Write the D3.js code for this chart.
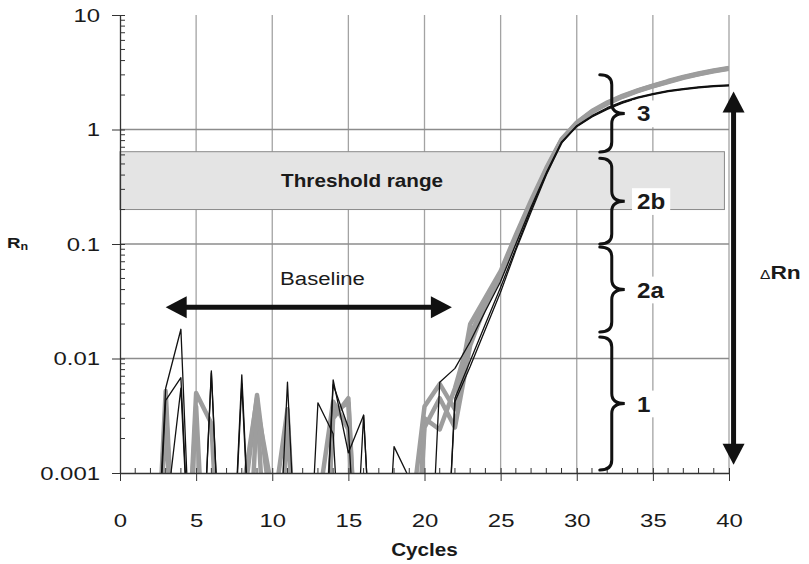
<!DOCTYPE html>
<html>
<head>
<meta charset="utf-8">
<script src="https://cdn.jsdelivr.net/npm/d3@7"></script>
<style>
    body {margin: 0; background: #fff;}
    text {font-family: Arial, "Liberation Sans", sans-serif; fill: #1a1a1a;}
</style>
</head>
<body>
<div id="chart"></div>
<script>
// value used for points that fall below the plotted range (clipped at the axis)
var off = 0.00001;

var cycles = [0,1,2,3,4,5,6,7,8,9,10,11,12,13,14,15,16,17,18,19,20,
              21,22,23,24,25,26,27,28,29,30,31,32,33,34,35,36,37,38,39,40];

// black (thin) replicate curves
var black1 = [off,off,off,0.0055,0.018,off,0.0078,off,off,off,off,0.0062,off,off,0.0059,0.0025,off,off,off,off,off,
              0.0062,0.0082,0.014,0.026,0.047,0.1,0.21,0.42,0.78,1.08,1.32,1.55,1.75,1.92,2.06,2.18,2.27,2.35,2.41,2.45];
var black2 = [off,off,off,0.0043,0.0068,off,0.0075,off,0.0072,off,off,off,off,0.0041,0.0022,off,0.0032,off,0.0017,0.0009,off,
              off,0.0045,0.0095,0.02,0.042,0.092,0.2,0.41,0.77,1.07,1.3,1.52,1.72,1.9,2.04,2.16,2.25,2.33,2.39,2.43];
var black3 = [off,off,off,0.0004,0.0055,off,off,off,0.006,off,off,off,off,off,0.0065,0.0015,0.0032,off,off,off,off,
              off,0.0042,0.0085,0.018,0.038,0.088,0.19,0.4,0.76,1.06,1.29,1.5,1.7,1.88,2.02,2.14,2.23,2.31,2.37,2.41];

// gray (thick) replicate curves
var gray1 = [off,off,off,0.0052,off,0.005,0.0027,off,0.0004,0.0048,0.0004,0.0036,off,off,0.0034,0.0041,off,off,off,0.0003,0.0038,
             0.006,0.0036,0.02,0.034,0.058,0.12,0.24,0.46,0.82,1.15,1.45,1.72,1.97,2.2,2.42,2.65,2.88,3.08,3.28,3.45];
var gray2 = [off,off,off,0.004,off,0.0038,off,off,0.0006,0.0045,off,0.003,off,0.0005,0.0042,0.0024,off,off,off,off,0.003,
             0.0024,0.0055,0.016,0.031,0.055,0.115,0.23,0.45,0.81,1.14,1.43,1.7,1.95,2.18,2.4,2.62,2.85,3.05,3.25,3.42];
var gray3 = [off,off,off,0.003,off,off,off,off,off,0.0038,0.0007,off,off,off,0.003,0.0045,off,off,off,off,0.0025,
             0.0045,0.0025,0.013,0.029,0.053,0.11,0.22,0.44,0.8,1.13,1.42,1.68,1.93,2.16,2.38,2.6,2.83,3.03,3.22,3.4];

var xTickLabels = [0,5,10,15,20,25,30,35,40];
var yTickValues = [0.001,0.01,0.1,1,10];
var yTickLabels = ["0.001","0.01","0.1","1","10"];

// annotations
var thresholdRange = [0.2, 0.64];
var thresholdEnd = 39.7;
var baselineCycles = [3, 21.8];
var baselineLevel = 0.028;
var braceLabels = ["1","2a","2b","3"];
var braceTops = [0.0154, 0.094, 0.56, 3.0];
var braceBottoms = [0.00106, 0.017, 0.1, 0.636];
var braceCycle = 32.3;
var deltaRnRange = [0.00118, 2.15];
var deltaRnCycle = 40.3;

var width = 809, height = 564;
var padding = {top: 15, right: 80, bottom: 91, left: 120};

var x = d3.scaleLinear().domain([0, 40]).range([padding.left, width - padding.right]);
var y = d3.scaleLog().domain([0.001, 10]).range([height - padding.bottom, padding.top]);

var svg = d3.select("#chart").append("svg")
    .attr("width", width)
    .attr("height", height);

svg.append("defs").append("clipPath").attr("id", "plotClip")
    .append("rect")
    .attr("x", x(0)).attr("y", y(10))
    .attr("width", x(40) - x(0)).attr("height", y(0.001) - y(10));

function addText(parent, str, px, py, size, weight, anchor, sx) {
    return parent.append("text")
        .attr("transform", "translate(" + px + "," + py + ") scale(" + sx + ",1)")
        .attr("text-anchor", anchor)
        .style("font-size", size + "px")
        .style("font-weight", weight)
        .text(str);
}

// grid
svg.append("g").selectAll("line")
    .data(xTickLabels.slice(1))
    .enter().append("line")
    .attr("x1", function(d) { return x(d); })
    .attr("x2", function(d) { return x(d); })
    .attr("y1", y(10)).attr("y2", y(0.001))
    .attr("stroke", "#a3a3a3").attr("stroke-width", 1.3);
svg.append("g").selectAll("line")
    .data([0.01, 0.1, 1])
    .enter().append("line")
    .attr("x1", x(0)).attr("x2", x(40))
    .attr("y1", function(d) { return y(d); })
    .attr("y2", function(d) { return y(d); })
    .attr("stroke", "#8c8c8c").attr("stroke-width", 1.5);

// threshold range box
svg.append("rect")
    .attr("x", x(0)).attr("y", y(thresholdRange[1]))
    .attr("width", x(thresholdEnd) - x(0))
    .attr("height", y(thresholdRange[0]) - y(thresholdRange[1]))
    .attr("fill", "#e4e4e4").attr("stroke", "#8a8a8a").attr("stroke-width", 1);
addText(svg, "Threshold range", x(15.9), (y(thresholdRange[0]) + y(thresholdRange[1])) / 2 + 6.5, 18, "bold", "middle", 1.15);

// curves
var line = d3.line()
    .x(function(d, i) { return x(cycles[i]); })
    .y(function(d) { return y(d); });
var curves = svg.append("g").attr("clip-path", "url(#plotClip)");
curves.selectAll("path.gray")
    .data([gray1, gray2, gray3])
    .enter().append("path")
    .attr("class", "gray")
    .attr("d", line)
    .attr("fill", "none").attr("stroke", "#9d9d9d")
    .attr("stroke-width", 4.5).attr("stroke-linejoin", "round");
curves.selectAll("path.black")
    .data([black1, black2, black3])
    .enter().append("path")
    .attr("class", "black")
    .attr("d", line)
    .attr("fill", "none").attr("stroke", "#111")
    .attr("stroke-width", 1.3).attr("stroke-linejoin", "round");

// y axis
var yAxis = svg.append("g")
    .attr("transform", "translate(" + x(0) + ",0)")
    .style("color", "#333")
    .call(d3.axisLeft(y).tickValues(yTickValues).tickSize(8).tickSizeOuter(0)
        .tickFormat(function(d, i) { return yTickLabels[i]; }));
yAxis.select(".domain").attr("stroke-width", 1.3);
yAxis.selectAll("text")
    .attr("x", null).attr("dy", "0.36em")
    .attr("transform", "translate(-20,0) scale(1.33,1)")
    .style("font-size", "18px").style("fill", "#1a1a1a");
yAxis.selectAll(".tick").append("line").attr("x2", 5).attr("stroke", "currentColor");
yAxis.append("g").selectAll("line")
    .data(y.ticks().filter(function(d) { return yTickValues.indexOf(d) < 0; }))
    .enter().append("line")
    .attr("x1", 0).attr("x2", 5)
    .attr("y1", function(d) { return y(d); })
    .attr("y2", function(d) { return y(d); })
    .attr("stroke", "#333");

// x axis
var xAxis = svg.append("g")
    .attr("transform", "translate(0," + y(0.001) + ")")
    .style("color", "#333")
    .call(d3.axisBottom(x).tickValues(xTickLabels).tickSize(8).tickSizeOuter(0));
xAxis.select(".domain").attr("stroke-width", 1.3);
xAxis.selectAll("text")
    .attr("y", 54.5).attr("dy", null)
    .attr("transform", "scale(1.33,1)")
    .style("font-size", "18px").style("fill", "#1a1a1a");
xAxis.selectAll(".tick").append("line").attr("y2", -5).attr("stroke", "currentColor");
xAxis.append("g").selectAll("line")
    .data(cycles.filter(function(d) { return d % 5 !== 0; }))
    .enter().append("line")
    .attr("x1", function(d) { return x(d); })
    .attr("x2", function(d) { return x(d); })
    .attr("y1", 0).attr("y2", -5)
    .attr("stroke", "#333");

// axis titles
addText(svg, "Cycles", (x(0) + x(40)) / 2, 556, 18, "bold", "middle", 1.15);
var rn = svg.append("text")
    .attr("transform", "translate(7,248) scale(1.25,1)")
    .style("font-weight", "bold");
rn.append("tspan").style("font-size", "15px").text("R");
rn.append("tspan").style("font-size", "10px").attr("dy", 2).text("n");

// arrows
function arrowHead(tx, ty, dx, dy) {
    // tip at (tx,ty), pointing along (dx,dy); length 21, half width 11
    var len = 21, hw = 11;
    var bx = tx - dx * len, by = ty - dy * len;
    return "M" + tx + "," + ty +
        "L" + (bx - dy * hw) + "," + (by + dx * hw) +
        "L" + (bx + dy * hw) + "," + (by - dx * hw) + "Z";
}
var ann = svg.append("g");
var bY = y(baselineLevel), bX0 = x(baselineCycles[0]), bX1 = x(baselineCycles[1]);
ann.append("line")
    .attr("x1", bX0 + 18).attr("x2", bX1 - 18)
    .attr("y1", bY).attr("y2", bY)
    .attr("stroke", "#111").attr("stroke-width", 5);
ann.append("path").attr("d", arrowHead(bX0, bY, -1, 0)).attr("fill", "#111");
ann.append("path").attr("d", arrowHead(bX1, bY, 1, 0)).attr("fill", "#111");
addText(ann, "Baseline", x(13.3), bY - 22, 18, "normal", "middle", 1.23);

var dX = x(deltaRnCycle), dY0 = y(deltaRnRange[1]), dY1 = y(deltaRnRange[0]);
ann.append("line")
    .attr("x1", dX).attr("x2", dX)
    .attr("y1", dY0 + 18).attr("y2", dY1 - 18)
    .attr("stroke", "#111").attr("stroke-width", 5);
ann.append("path").attr("d", arrowHead(dX, dY0, 0, -1)).attr("fill", "#111");
ann.append("path").attr("d", arrowHead(dX, dY1, 0, 1)).attr("fill", "#111");
var drn = ann.append("text")
    .attr("transform", "translate(760," + ((dY0 + dY1) / 2 + 1) + ") scale(1.2,1)");
drn.append("tspan").style("font-size", "13px").text("\u0394");
drn.append("tspan").style("font-size", "19px").style("font-weight", "bold").text("Rn");

// braces
function bracePath(xs, yt, yb) {
    var w = 12, r = 10, ym = (yt + yb) / 2;
    return "M" + (xs - w) + "," + yt +
        " Q" + xs + "," + yt + " " + xs + "," + (yt + r) +
        " L" + xs + "," + (ym - r) +
        " Q" + xs + "," + ym + " " + (xs + w + 1) + "," + ym +
        " Q" + xs + "," + ym + " " + xs + "," + (ym + r) +
        " L" + xs + "," + (yb - r) +
        " Q" + xs + "," + yb + " " + (xs - w) + "," + yb;
}
braceLabels.forEach(function(lbl, i) {
    var xs = x(braceCycle), yt = y(braceTops[i]), yb = y(braceBottoms[i]);
    var ym = (yt + yb) / 2;
    ann.append("path")
        .attr("d", bracePath(xs, yt, yb))
        .attr("fill", "none").attr("stroke", "#111")
        .attr("stroke-width", 3).attr("stroke-linecap", "round");
    var g = ann.append("g");
    var t = addText(g, lbl, 637, ym + 8, 22, "bold", "start", 1.1);
    var bb = t.node().getBBox();
    g.insert("rect", function() { return t.node(); })
        .attr("x", 637 + bb.x * 1.1 - 5).attr("y", ym + 8 + bb.y - 1)
        .attr("width", bb.width * 1.1 + 10).attr("height", bb.height + 2)
        .attr("fill", "#fff");
});
</script>
</body>
</html>
